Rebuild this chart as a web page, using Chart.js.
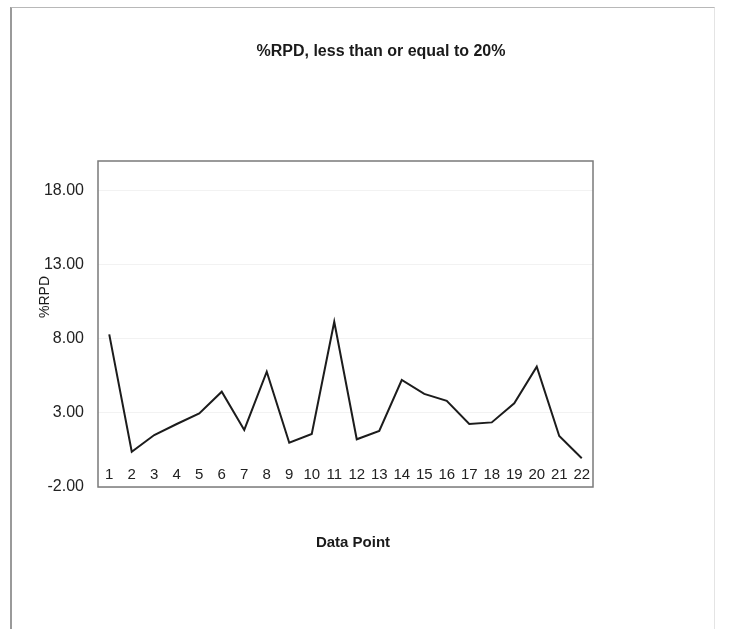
<!DOCTYPE html>
<html>
<head>
<meta charset="utf-8">
<title>%RPD, less than or equal to 20%</title>
<script src="https://cdn.jsdelivr.net/npm/chart.js@4.4.1/dist/chart.umd.min.js"></script>
<style>
  html, body { margin: 0; padding: 0; background: #ffffff; overflow: hidden; }
  #wrap { position: relative; width: 740px; height: 629px; }
  #frame {
    position: absolute; left: 10px; top: 7px; width: 702px; height: 640px;
    border-left: 2px solid #9a9a9a; border-top: 1px solid #b8b8b8; border-right: 1px solid #e4e4e4;
  }
  #chart { position: absolute; left: 0; top: 0; }
</style>
</head>
<body>
<div id="wrap">
  <div id="frame"></div>
  <canvas id="chart" width="740" height="629"></canvas>
</div>
<script>
// Data point numbers along the category axis
const pointLabels = ['1','2','3','4','5','6','7','8','9','10','11','12','13','14','15','16','17','18','19','20','21','22'];
// Relative percent difference for each data point
const rpdValues = [8.30, 0.38, 1.51, 2.25, 2.97, 4.43, 1.85, 5.78, 0.99, 1.58, 9.15, 1.22, 1.78, 5.22, 4.28, 3.82, 2.25, 2.36, 3.65, 6.12, 1.44, -0.06];
// Value axis ticks and limits
const yTickValues = [-2, 3, 8, 13, 18];
const yMin = -2;
const yMax = 20;

const chartTitle = '%RPD, less than or equal to 20%';
const xTitle = 'Data Point';
const yTitle = '%RPD';

// Outline around the plot area
const plotBox = {
  id: 'plotBox',
  beforeDatasetsDraw(chart) {
    const { ctx, chartArea: a } = chart;
    ctx.save();
    ctx.strokeStyle = '#7a7a7a';
    ctx.lineWidth = 1.5;
    ctx.strokeRect(a.left, a.top, a.right - a.left, a.bottom - a.top);
    ctx.restore();
  }
};

// Category numbers sit inside the plot, just above its bottom edge
const innerCategoryLabels = {
  id: 'innerCategoryLabels',
  afterDatasetsDraw(chart) {
    const { ctx, chartArea: a } = chart;
    const xScale = chart.scales.x;
    ctx.save();
    ctx.fillStyle = '#222222';
    ctx.font = '15px "Liberation Sans", Arial, sans-serif';
    ctx.textAlign = 'center';
    ctx.textBaseline = 'middle';
    xScale.getLabels().forEach((lab, i) => {
      ctx.fillText(lab, xScale.getPixelForValue(i), a.bottom - 12);
    });
    ctx.restore();
  }
};

// Chart title and axis titles
const titles = {
  id: 'titles',
  afterDraw(chart) {
    const { ctx } = chart;
    ctx.save();
    ctx.fillStyle = '#1a1a1a';
    ctx.textAlign = 'center';
    ctx.textBaseline = 'middle';
    ctx.font = 'bold 16px "Liberation Sans Narrow", "Arial Narrow", "Liberation Sans", Arial, sans-serif';
    ctx.fillText(chartTitle, 381, 52);
    ctx.font = 'bold 15px "Liberation Sans", Arial, sans-serif';
    ctx.fillText(xTitle, 353, 543);
    ctx.translate(45, 297);
    ctx.rotate(-Math.PI / 2);
    ctx.font = '14px "Liberation Sans", Arial, sans-serif';
    ctx.fillText(yTitle, 0, 0);
    ctx.restore();
  }
};

new Chart(document.getElementById('chart'), {
  type: 'line',
  data: {
    labels: pointLabels,
    datasets: [{
      label: '%RPD',
      data: rpdValues,
      borderColor: '#1c1c1c',
      borderWidth: 2,
      pointRadius: 0,
      tension: 0,
      fill: false
    }]
  },
  options: {
    responsive: false,
    devicePixelRatio: 1,
    animation: false,
    layout: { padding: { left: 0, top: 161, right: 147, bottom: 142 } },
    plugins: {
      legend: { display: false },
      title: { display: false },
      tooltip: { enabled: false }
    },
    scales: {
      x: {
        type: 'category',
        offset: true,
        grid: { display: false, drawTicks: false },
        border: { display: false },
        ticks: { display: false },
        afterFit(scale) { scale.height = 0; }
      },
      y: {
        min: yMin,
        max: yMax,
        grid: { color: 'rgba(0,0,0,0.05)', drawTicks: false },
        border: { display: false },
        ticks: {
          color: '#222222',
          font: { family: '"Liberation Sans", Arial, sans-serif', size: 16 },
          padding: 14,
          callback: (v) => Number(v).toFixed(2)
        },
        afterBuildTicks(scale) { scale.ticks = yTickValues.map(v => ({ value: v })); },
        afterFit(scale) { scale.width = 98; }
      }
    }
  },
  plugins: [plotBox, innerCategoryLabels, titles]
});
</script>
</body>
</html>
